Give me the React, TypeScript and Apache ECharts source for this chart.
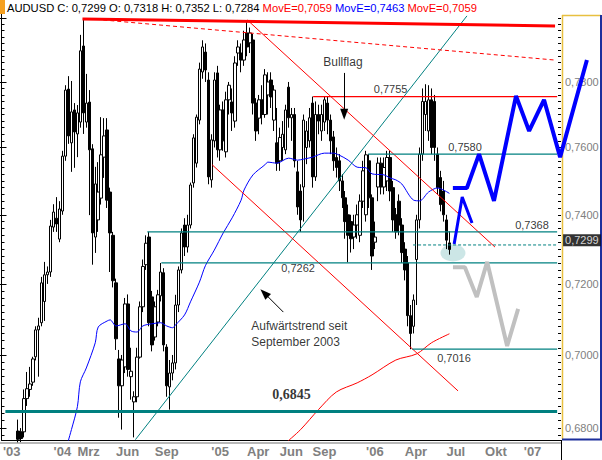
import React, { useEffect, useRef } from "react";
import * as echarts from "echarts";

// ---------- data (weekly bars, week index 5 .. 150) ----------
const WEEK_COUNT = 188;
const FIRST_BAR = 5;

const openP = [
  0.6792, 0.679, 0.679, 0.688, 0.6905, 0.6925, 0.6995, 0.707, 0.709, 0.715, // 5
  0.7226, 0.7234, 0.7364, 0.739, 0.7329, 0.7411, 0.7574, 0.7778, 0.7614, 0.7714, // 15
  0.7641, 0.7677, 0.7912, 0.7677, 0.7738, 0.7596, 0.7335, 0.7385, 0.7449, 0.7571, // 25
  0.7653, 0.7467, 0.734, 0.7203, 0.6989, 0.6915, 0.6967, 0.7143, 0.694, 0.6871, // 35
  0.6885, 0.6994, 0.7135, 0.7255, 0.7335, 0.7163, 0.705, 0.7092, 0.7166, 0.7232, // 45
  0.7022, 0.6912, 0.695, 0.6978, 0.714, 0.724, 0.737, 0.7306, 0.737, 0.7494, // 55
  0.7553, 0.7683, 0.7831, 0.7893, 0.7806, 0.7503, 0.762, 0.7828, 0.7593, 0.7714, // 65
  0.7587, 0.7745, 0.7738, 0.768, 0.789, 0.789, 0.7868, 0.7953, 0.7922, 0.7931, // 75
  0.7735, 0.7689, 0.7745, 0.77, 0.776, 0.7806, 0.7683, 0.7614, 0.756, 0.76, // 85
  0.7593, 0.7784, 0.769, 0.77, 0.7527, 0.747, 0.7482, 0.76, 0.762, 0.7735, // 95
  0.7512, 0.77, 0.765, 0.7677, 0.7735, 0.7683, 0.7632, 0.757, 0.756, 0.75, // 105
  0.745, 0.74, 0.738, 0.7335, 0.737, 0.734, 0.744, 0.74, 0.756, 0.745, // 115
  0.732, 0.7482, 0.7553, 0.7482, 0.75, 0.757, 0.748, 0.74, 0.744, 0.737, // 125
  0.73, 0.726, 0.711, 0.708, 0.727, 0.7385, 0.758, 0.77, 0.765, 0.7745, // 135
  0.774, 0.758, 0.751, 0.747, 0.7385, 0.7318, // 145
];
const closeP = [
  0.677, 0.6772, 0.688, 0.6907, 0.692, 0.6989, 0.707, 0.7081, 0.7203, 0.7226,
  0.7234, 0.7367, 0.7408, 0.7373, 0.7417, 0.7574, 0.7775, 0.7635, 0.7708, 0.7647,
  0.7705, 0.7897, 0.7705, 0.7735, 0.7593, 0.7347, 0.7491, 0.7467, 0.7578, 0.7635,
  0.7443, 0.7347, 0.7209, 0.7045, 0.6915, 0.6986, 0.7143, 0.696, 0.6955, 0.6885,
  0.6994, 0.7135, 0.725, 0.7317, 0.709, 0.7028, 0.7135, 0.7169, 0.7234, 0.7028,
  0.6915, 0.695, 0.6978, 0.714, 0.724, 0.7347, 0.7306, 0.737, 0.7488, 0.7629,
  0.7692, 0.784, 0.7909, 0.7837, 0.7512, 0.7623, 0.7806, 0.7593, 0.7714, 0.762,
  0.7745, 0.779, 0.7705, 0.7859, 0.7909, 0.7868, 0.7931, 0.7909, 0.7953, 0.7735,
  0.765, 0.7745, 0.77, 0.7822, 0.78, 0.7754, 0.7775, 0.7553, 0.763, 0.764,
  0.7714, 0.769, 0.77, 0.756, 0.7423, 0.7385, 0.7683, 0.765, 0.769, 0.7512,
  0.77, 0.768, 0.77, 0.7745, 0.7683, 0.762, 0.756, 0.754, 0.75, 0.745,
  0.738, 0.734, 0.733, 0.737, 0.74, 0.744, 0.753, 0.7578, 0.745, 0.728,
  0.7335, 0.7553, 0.7482, 0.754, 0.757, 0.747, 0.7385, 0.735, 0.737, 0.729,
  0.724, 0.711, 0.706, 0.7154, 0.7385, 0.758, 0.774, 0.774, 0.7745, 0.76,
  0.76, 0.748, 0.743, 0.74, 0.7326, 0.7299,
];
const lowP = [
  0.676, 0.6762, 0.6775, 0.686, 0.6885, 0.6915, 0.6985, 0.694, 0.708, 0.7095,
  0.72, 0.722, 0.735, 0.735, 0.732, 0.74, 0.756, 0.7611, 0.7527, 0.7539,
  0.7571, 0.766, 0.7641, 0.766, 0.7399, 0.7255, 0.7289, 0.735, 0.743, 0.7509,
  0.742, 0.7234, 0.719, 0.7014, 0.6828, 0.6796, 0.695, 0.694, 0.6877, 0.6775,
  0.687, 0.699, 0.712, 0.724, 0.708, 0.701, 0.704, 0.708, 0.715, 0.701,
  0.6885, 0.685, 0.693, 0.696, 0.712, 0.723, 0.728, 0.729, 0.736, 0.748,
  0.754, 0.767, 0.781, 0.78, 0.749, 0.748, 0.76, 0.757, 0.756, 0.759,
  0.757, 0.77, 0.765, 0.766, 0.785, 0.783, 0.785, 0.788, 0.789, 0.77,
  0.762, 0.764, 0.767, 0.769, 0.77, 0.772, 0.765, 0.753, 0.753, 0.756,
  0.758, 0.766, 0.762, 0.754, 0.74, 0.735, 0.738, 0.755, 0.76, 0.748,
  0.75, 0.764, 0.762, 0.765, 0.764, 0.758, 0.753, 0.751, 0.747, 0.742,
  0.733, 0.7262, 0.729, 0.73, 0.733, 0.732, 0.742, 0.738, 0.742, 0.724,
  0.73, 0.744, 0.746, 0.746, 0.747, 0.744, 0.735, 0.733, 0.734, 0.726,
  0.721, 0.708, 0.7016, 0.706, 0.714, 0.736, 0.756, 0.765, 0.762, 0.758,
  0.756, 0.746, 0.741, 0.738, 0.73, 0.7284,
];
const highP = [
  0.6823, 0.68, 0.6905, 0.6953, 0.6967, 0.6995, 0.708, 0.7104, 0.722, 0.7263,
  0.725, 0.7385, 0.7431, 0.7452, 0.744, 0.759, 0.779, 0.7818, 0.7803, 0.7735,
  0.7729, 0.7947, 0.7994, 0.7825, 0.7775, 0.761, 0.7542, 0.7556, 0.7692, 0.7689,
  0.7689, 0.748, 0.735, 0.7215, 0.7014, 0.7, 0.716, 0.717, 0.702, 0.69,
  0.702, 0.715, 0.727, 0.734, 0.735, 0.718, 0.715, 0.7183, 0.726, 0.7245,
  0.703, 0.6986, 0.7, 0.7169, 0.725, 0.736, 0.739, 0.74, 0.7495, 0.764,
  0.77, 0.786, 0.793, 0.792, 0.783, 0.764, 0.783, 0.785, 0.773, 0.774,
  0.777, 0.78, 0.778, 0.788, 0.793, 0.792, 0.796, 0.799, 0.797, 0.795,
  0.775, 0.776, 0.779, 0.784, 0.783, 0.783, 0.779, 0.772, 0.766, 0.768,
  0.773, 0.78, 0.772, 0.772, 0.756, 0.749, 0.77, 0.768, 0.772, 0.7755,
  0.774, 0.773, 0.773, 0.7755, 0.7755, 0.77, 0.765, 0.76, 0.758, 0.752,
  0.747, 0.743, 0.74, 0.74, 0.743, 0.746, 0.756, 0.759, 0.758, 0.746,
  0.738, 0.757, 0.757, 0.757, 0.759, 0.759, 0.75, 0.742, 0.746, 0.739,
  0.732, 0.728, 0.714, 0.717, 0.74, 0.76, 0.778, 0.7793, 0.779, 0.778,
  0.776, 0.76, 0.753, 0.75, 0.74, 0.7352,
];

// moving averages (week, value)
const blueMaWeek = [21, 23, 25, 26, 28, 31, 32, 35, 36, 38, 41, 43, 45, 47, 50, 53, 55, 57, 58, 61, 63, 66, 68, 71, 74, 77, 80, 81, 84, 88, 89, 92, 96, 99, 101, 104, 108, 111, 113, 116, 119, 122, 124, 128, 130, 132, 134, 138, 140, 143, 146, 150];
const blueMaValue = [0.674, 0.6796, 0.6858, 0.6926, 0.6964, 0.7034, 0.7078, 0.7095, 0.7098, 0.7081, 0.7087, 0.7067, 0.7064, 0.7081, 0.7087, 0.709, 0.7081, 0.7076, 0.7084, 0.7112, 0.7149, 0.7205, 0.7252, 0.7297, 0.7347, 0.7391, 0.7443, 0.7473, 0.7518, 0.7548, 0.7556, 0.7553, 0.7568, 0.7562, 0.7565, 0.7571, 0.7583, 0.7583, 0.7577, 0.7562, 0.7541, 0.7539, 0.7521, 0.7518, 0.7509, 0.7503, 0.7491, 0.7443, 0.7441, 0.7467, 0.7479, 0.7463];
const redMaWeek = [95, 100, 106, 112, 119, 124, 132, 139, 144, 150];
const redMaValue = [0.676, 0.6796, 0.685, 0.6898, 0.6923, 0.6945, 0.6986, 0.7003, 0.7034, 0.7059];

// axis ticks
const xTickWeek = [0, 17, 25, 38, 51, 70, 82, 93, 104, 122, 135, 149, 162, 175];
const xTickText = ["'03", "'04", "Mrz", "Jun", "Sep", "'05", "Apr", "Jun", "Sep", "'06", "Apr", "Jul", "Okt", "'07"];
const yLabelValues = [0.68, 0.7, 0.72, 0.74, 0.76, 0.78];
const yMajorTickValues = [0.68, 0.7, 0.72, 0.74, 0.76, 0.78, 0.8];
const Y_MIN = 0.6768;
const Y_MAX = 0.8013;

// drawn trend lines [week, price]
const upTrendLine = [[44.5, 0.6769], [155.9, 0.8007]];
const topResistance = [[26.7, 0.7997], [185.5, 0.7975]];
const topDotted = [[33.7, 0.7994], [185.5, 0.7868]];
const downTrendUpper = [[82.1, 0.7994], [165.3, 0.7306]];
const downTrendLower = [[70.3, 0.7548], [152.9, 0.6901]];

// horizontal levels
const levelStart = [48.5, 53.2, 122.7, 104.2, 137.5, 0.8];
const levelPrice = [0.735, 0.726, 0.758, 0.7755, 0.7016, 0.6845];
const levelKind = ["teal", "teal", "teal", "red", "teal", "tealBold"];
const LEVEL_END = 186.2;
const lastCloseLine = [[137.8, 0.7312], [186.2, 0.7312]];

// projections
const bullProjection = [[151.2, 0.7479], [155.9, 0.7479], [160.0, 0.758], [165.0, 0.7441], [172.4, 0.7757], [176.8, 0.765], [181.8, 0.7745], [187.2, 0.7571], [196.2, 0.7868]];
const flagBreak = [[151.6, 0.7315], [154.3, 0.7452], [157.6, 0.7376]];
const bearProjection = [[151.2, 0.7248], [155.2, 0.7248], [159.2, 0.7163], [162.7, 0.7263], [169.4, 0.7025], [173.1, 0.7129]];
const supportZone = [151.2, 0.7289];

// notes
const noteText = ["0,7755", "0,7580", "0,7368", "0,7262", "0,7016", "0,6845", "Bullflag", "Aufwärtstrend seit", "September 2003"];
const noteWeek = [124.6, 149.6, 172.1, 93.5, 145.9, 90.5, 107.6, 83.4, 83.4];
const notePrice = [0.7778, 0.7601, 0.7369, 0.7245, 0.6991, 0.6891, 0.7862, 0.7081, 0.7036];

const bullArrow = [[114.65, 0.7828], [114.65, 0.7701]];
const trendArrow = [[94.2, 0.712], [87.8, 0.7174]];

const markerWeek = 188.2;
const markerPrice = 0.7326;

// ---------- option ----------
const FONT = "Liberation Sans, Arial, sans-serif";
const TEAL = "#008080";
const L = Math.log;
const fmt = (p: number) => p.toFixed(4).replace(".", ",");
const GRID_LEFT = 1;
const GRID_RIGHT = 41;
const CHART_W = 602;
const BAND = (CHART_W - GRID_LEFT - GRID_RIGHT) / WEEK_COUNT;

function lineSeries(pts: number[][], color: string, width: number, type: any = "solid", z = 3, wide = false) {
  return {
    type: "line",
    xAxisIndex: wide ? 2 : 1,
    yAxisIndex: wide ? 4 : 0,
    data: pts.map(([w, p]) => [w, L(p)]),
    symbol: "none",
    lineStyle: { color, width, type },
    silent: true,
    clip: !wide,
    z,
  };
}

function buildOption() {
  const n = openP.length;
  const candleData = Array.from({ length: WEEK_COUNT }, (_, i) => {
    const k = i - FIRST_BAR;
    if (k < 0 || k >= n) return "-";
    return [L(openP[k]), L(closeP[k]), L(lowP[k]), L(highP[k])];
  });
  const minorTicks: number[] = [];
  for (let v = 678; v <= 800; v += 2) minorTicks.push(L(v / 1000));

  const lo = L(Y_MIN);
  const hi = L(Y_MAX);
  const yBase = { type: "value", min: lo, max: hi, splitLine: { show: false } };

  const HF = 11.2;
  const rich = {
    k: { color: "#000", fontSize: HF, fontFamily: FONT },
    r: { color: "#ff0000", fontSize: HF, fontFamily: FONT },
    b: { color: "#0000ff", fontSize: HF, fontFamily: FONT },
  };
  const redLast = redMaValue[redMaValue.length - 1];
  const blueLast = blueMaValue[blueMaValue.length - 1];
  const header = `{k|AUDUSD C: ${fmt(closeP[n - 1])} O: ${fmt(openP[n - 1])} H: ${fmt(highP[n - 1])} L: ${fmt(lowP[n - 1])} }{r|MovE=${fmt(redLast)} }{b|MovE=${fmt(blueLast)} }{r|MovE=${fmt(redLast)}}`;

  const levelSeries = levelPrice.map((p, i) => {
    const kind = levelKind[i];
    const color = kind === "red" ? "#ff0000" : TEAL;
    const width = kind === "tealBold" ? 3 : 1.2;
    return lineSeries([[levelStart[i], p], [LEVEL_END, p]], color, width);
  });

  const noteSeries = {
    type: "scatter",
    xAxisIndex: 1,
    yAxisIndex: 0,
    symbolSize: 0,
    silent: true,
    clip: false,
    z: 6,
    data: noteText.map((t, i) => ({
      value: [noteWeek[i], L(notePrice[i])],
      label: {
        show: true,
        position: "right",
        distance: 0,
        formatter: t,
        color: "#000",
        fontFamily: t === "0,6845" ? "Liberation Serif, Times New Roman, serif" : FONT,
        fontWeight: t === "0,6845" ? "bold" : "normal",
        fontSize: t === "0,6845" ? 14 : /^[0-9]/.test(t) ? 11 : 12,
      },
    })),
  };

  const arrowSeries = {
    type: "line",
    xAxisIndex: 1,
    yAxisIndex: 0,
    data: [[upTrendLine[0][0], L(upTrendLine[0][1])]],
    symbol: "none",
    lineStyle: { opacity: 0 },
    silent: true,
    z: 6,
    markLine: {
      silent: true,
      symbol: ["none", "triangle"],
      symbolSize: [8, 11],
      label: { show: false },
      lineStyle: { color: "#000", width: 1, type: "solid" },
      data: [bullArrow, trendArrow].map((a) => [
        { coord: [a[0][0], L(a[0][1])] },
        { coord: [a[1][0], L(a[1][1])] },
      ]),
    },
  };

  // wide grid spanning into the price panel, same scale per week
  const wideMax = -0.5 + (CHART_W - GRID_LEFT) / BAND;

  return {
    animation: false,
    backgroundColor: "#fff",
    title: {
      left: 7,
      top: 2,
      padding: 0,
      text: header,
      textStyle: { fontSize: HF, fontFamily: FONT, fontWeight: "normal", rich },
    },
    grid: [
      { left: GRID_LEFT, right: GRID_RIGHT, top: 14, bottom: 20, containLabel: false },
      { left: GRID_LEFT, right: 0, top: 14, bottom: 20, containLabel: false },
    ],
    xAxis: [
      {
        type: "category",
        gridIndex: 0,
        data: Array.from({ length: WEEK_COUNT }, (_, i) => String(i)),
        boundaryGap: true,
        axisLine: { lineStyle: { color: "#000", width: 1 } },
        axisTick: {
          alignWithLabel: true,
          interval: (i: number) => xTickWeek.includes(i),
          length: 3,
          lineStyle: { color: "#000" },
        },
        axisLabel: {
          interval: (i: number) => xTickWeek.includes(i),
          formatter: (v: string) => xTickText[xTickWeek.indexOf(Number(v))] ?? "",
          align: "left",
          color: "#808080",
          fontWeight: "bold",
          fontSize: 13,
          fontFamily: FONT,
          margin: 5,
        },
        splitLine: { show: false },
      },
      { type: "value", gridIndex: 0, min: -0.5, max: WEEK_COUNT - 0.5, show: false },
      { type: "value", gridIndex: 1, min: -0.5, max: wideMax, show: false },
    ],
    yAxis: [
      {
        ...yBase,
        gridIndex: 0,
        position: "right",
        axisLine: { show: false },
        axisTick: { show: true, inside: true, length: 5, customValues: yMajorTickValues.map(L), lineStyle: { color: "#000" } },
        axisLabel: {
          customValues: yLabelValues.map(L),
          formatter: (v: number) => fmt(Math.exp(v)),
          color: "#808080",
          fontSize: 11,
          fontFamily: FONT,
          margin: 4,
        },
      },
      {
        ...yBase,
        gridIndex: 0,
        position: "right",
        axisLine: { show: false },
        axisTick: { show: true, inside: true, length: 3, customValues: minorTicks, lineStyle: { color: "#000" } },
        axisLabel: { show: false },
      },
      {
        ...yBase,
        gridIndex: 0,
        position: "left",
        axisLine: { show: true, lineStyle: { color: "#000" } },
        axisTick: { show: true, inside: true, length: 5, customValues: yMajorTickValues.map(L), lineStyle: { color: "#000" } },
        axisLabel: { show: false },
      },
      {
        ...yBase,
        gridIndex: 0,
        position: "left",
        axisLine: { show: false },
        axisTick: { show: true, inside: true, length: 3, customValues: minorTicks, lineStyle: { color: "#000" } },
        axisLabel: { show: false },
      },
      { ...yBase, gridIndex: 1, show: false },
    ],
    series: [
      {
        type: "scatter",
        xAxisIndex: 1,
        yAxisIndex: 0,
        data: [[supportZone[0], L(supportZone[1])]],
        symbol: "circle",
        symbolSize: [25, 17],
        itemStyle: { color: "#bfe0e0" },
        silent: true,
        z: 1,
      },
      {
        type: "candlestick",
        xAxisIndex: 0,
        yAxisIndex: 0,
        data: candleData,
        barWidth: 3,
        itemStyle: { color: "#ffffff", color0: "#000000", borderColor: "#000000", borderColor0: "#000000", borderWidth: 1 },
        silent: true,
        z: 2,
      },
      {
        type: "line",
        xAxisIndex: 1,
        yAxisIndex: 0,
        data: blueMaWeek.map((w, i) => [w, L(blueMaValue[i])]),
        symbol: "none",
        smooth: 0.3,
        lineStyle: { color: "#0000ff", width: 1 },
        silent: true,
        z: 3,
      },
      {
        type: "line",
        xAxisIndex: 1,
        yAxisIndex: 0,
        data: redMaWeek.map((w, i) => [w, L(redMaValue[i])]),
        symbol: "none",
        smooth: 0.3,
        lineStyle: { color: "#ff0000", width: 1 },
        silent: true,
        z: 3,
      },
      lineSeries(upTrendLine, TEAL, 1),
      lineSeries(topResistance, "#ff0000", 3),
      lineSeries(topDotted, "#ff0000", 1, [4, 3]),
      lineSeries(downTrendUpper, "#ff0000", 1),
      lineSeries(downTrendLower, "#ff0000", 1),
      ...levelSeries,
      lineSeries(lastCloseLine, TEAL, 1, [3, 2]),
      lineSeries(bearProjection, "#c0c0c0", 4, "solid", 4),
      lineSeries(flagBreak, "#0000ff", 3, "solid", 5),
      lineSeries(bullProjection, "#0000ff", 4, "solid", 5, true),
      noteSeries,
      arrowSeries,
      {
        type: "scatter",
        xAxisIndex: 1,
        yAxisIndex: 0,
        symbolSize: 0,
        clip: false,
        silent: true,
        z: 7,
        data: [
          {
            value: [markerWeek, L(markerPrice)],
            label: {
              show: true,
              position: "right",
              distance: 0,
              formatter: fmt(closeP[n - 1]),
              color: "#fff",
              backgroundColor: "#000",
              padding: [1, 2, 0, 2],
              fontSize: 11,
              fontFamily: FONT,
            },
          },
        ],
      },
    ],
    graphic: [
      { type: "rect", shape: { x: 0, y: 0, width: 5, height: 14 }, style: { fill: "#f5a020" }, z: 10 },
      { type: "line", shape: { x1: 0, y1: 443, x2: 561, y2: 443 }, style: { stroke: "#a0a0a0", lineWidth: 1.5 }, z: 10 },
      { type: "line", shape: { x1: 561.5, y1: 440, x2: 561.5, y2: 460 }, style: { stroke: "#000", lineWidth: 1 }, z: 10 },
      { type: "line", shape: { x1: 562.5, y1: 15, x2: 562.5, y2: 439 }, style: { stroke: "#e8c040", lineWidth: 1.5 }, z: 1 },
      { type: "line", shape: { x1: 562, y1: 15.5, x2: 601, y2: 15.5 }, style: { stroke: "#e8c040", lineWidth: 1.5 }, z: 1 },
      { type: "line", shape: { x1: 601, y1: 15, x2: 601, y2: 440 }, style: { stroke: "#1c2f9c", lineWidth: 2 }, z: 1 },
      { type: "line", shape: { x1: 562, y1: 439.5, x2: 602, y2: 439.5 }, style: { stroke: "#1c2f9c", lineWidth: 2 }, z: 1 },
    ],
  };
}

export default function App() {
  const ref = useRef<HTMLDivElement>(null);
  useEffect(() => {
    document.body.style.margin = "0";
    const chart = echarts.init(ref.current!, null, { renderer: "svg" });
    chart.setOption(buildOption() as any);
    return () => chart.dispose();
  }, []);
  return <div ref={ref} style={{ width: 602, height: 460 }} />;
}
